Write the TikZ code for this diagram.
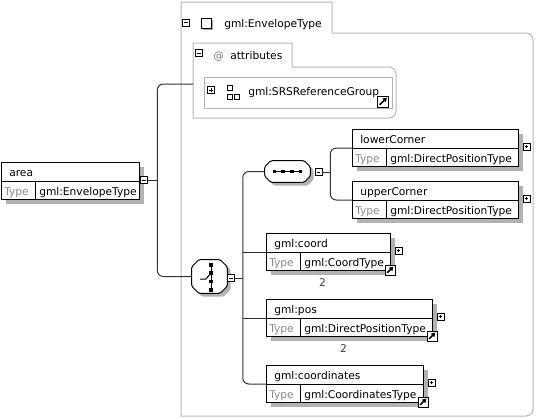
\documentclass[tikz,border=0pt]{standalone}
\usepackage{fontspec}
\setmainfont{DejaVu Sans}
\usetikzlibrary{calc, positioning, shadows, arrows.meta}
\newcommand{\pxu}{0.75pt}

\tikzset{
    txt/.style={font=\fontsize{8}{10}\selectfont, inner sep=0pt, anchor=base west},
    elem/.style={draw=black, fill=white, line width=0.75pt, inner sep=0pt, anchor=north west, minimum height=37*\pxu,
        drop shadow={shadow xshift=3pt, shadow yshift=-3pt, fill=black!30, opacity=1}},
    conn/.style={draw=black!80, line width=0.75pt, rounded corners=4.5pt},
    frame/.style={draw=black!28, line width=0.75pt},
    pmbox/.style={draw=black, fill=white, line width=0.5pt, minimum size=7*\pxu, inner sep=0pt},
    minus/.style={pmbox, path picture={\draw[line width=0.5pt] ([xshift=1.2pt]path picture bounding box.west) -- ([xshift=-1.2pt]path picture bounding box.east);}},
    plus/.style={pmbox, path picture={\draw[line width=0.5pt] ([xshift=1.2pt]path picture bounding box.west) -- ([xshift=-1.2pt]path picture bounding box.east)
        ([yshift=-1.2pt]path picture bounding box.north) -- ([yshift=1.2pt]path picture bounding box.south);}},
    link/.style={draw=black, fill=white, line width=0.6pt, minimum size=10*\pxu, inner sep=0pt,
        path picture={\draw[line width=1.1pt, -{Triangle[length=3pt, width=3.5pt]}] ([shift={(1.6pt,1.6pt)}]path picture bounding box.south west) -- ([shift={(-1.2pt,-1.2pt)}]path picture bounding box.north east);}},
    compositor/.style={rectangle, inner sep=0pt, draw=none},
    compline/.style={draw=black, fill=white, line width=0.75pt, rounded corners=1pt,
        drop shadow={shadow xshift=2.5pt, shadow yshift=-2.5pt, fill=black!30, opacity=1}},
}

% element box: id, x, y, width, name, type
\newcommand{\elembox}[6]{%
    \node[elem, minimum width=#4*\pxu] (#1) at (#2,#3) {};
    \draw[line width=0.75pt] (#1.west) -- (#1.east);
    \draw[line width=0.75pt] ($(#1.west)+(34,0)$) -- ($(#1.south west)+(34,0)$);
    \node[txt] (#1-name) at ($(#1.north west)+(8,14)$) {#5};
    \node[txt, text=black!45] (#1-tag) at ($(#1.north west)+(3,33)$) {Type};
    \node[txt] (#1-type) at ($(#1.north west)+(38,33)$) {#6};
}

% octagon outline round a compositor node: node, cut
\newcommand{\octagon}[2]{%
    \path[compline] ($(#1.north west)+(#2,0)$) -- ($(#1.north east)+(-#2,0)$) -- ($(#1.north east)+(0,#2)$)
        -- ($(#1.south east)+(0,-#2)$) -- ($(#1.south east)+(-#2,0)$) -- ($(#1.south west)+(#2,0)$)
        -- ($(#1.south west)+(0,-#2)$) -- ($(#1.north west)+(0,#2)$) -- cycle;
}

\begin{document}
\begin{tikzpicture}[x=0.75pt, y=-0.75pt]
    \useasboundingbox (0,0) rectangle (536,418);

    % containers
    \draw[frame] (181,416) -- (181,2) -- (332,2) -- (332,33) -- (526,33) arc[start angle=-90, end angle=0, radius=7]
        -- (533,409) arc[start angle=0, end angle=90, radius=7] -- cycle;
    \node[minus] (env-pm) at (186,22.5) {};
    \node[draw=black, fill=white, line width=0.6pt, minimum size=10*\pxu, inner sep=0pt,
        drop shadow={shadow xshift=1.5pt, shadow yshift=-1.5pt, fill=black!35, opacity=1}] (env-ic) at (206,23) {};
    \node[txt] (env-name) at (224,27) {gml:EnvelopeType};

    \draw[frame] (193,118) -- (193,43) -- (292,43) -- (292,67) -- (389,67) arc[start angle=-90, end angle=0, radius=7]
        -- (396,111) arc[start angle=0, end angle=90, radius=7] -- cycle;
    \coordinate (attr) at (193,84);
    \node[minus] (att-pm) at (199,53) {};
    \node[txt, text=black!50] (att-at) at (213,59) {@};
    \node[txt] (att-name) at (230,59) {attributes};

    \node[draw=black!30, fill=white, line width=0.75pt, anchor=north west, minimum width=188*\pxu, minimum height=31*\pxu] (srs) at (204,77) {};
    \node[plus] (srs-pm) at (211,90) {};
    \draw[line width=0.6pt] (227,85) rectangle (232,90) (227,94) rectangle (232,99) (234,94) rectangle (239,99);
    \node[txt] (srs-name) at (248,95.5) {gml:SRSReferenceGroup};
    \node[link, minimum size=11*\pxu] (srs-lk) at (383,101.5) {};

    % root element
    \elembox{area}{1}{162}{138}{area}{gml:EnvelopeType}
    \node[minus] (area-pm) at (144,180) {};

    % compositors
    \node[compositor, minimum width=35*\pxu, minimum height=33*\pxu] (choice) at (209.5,276.5) {};
    \octagon{choice}{7}
    \draw[line width=0.75pt] ($(choice)+(1.5,-11.5)$) -- ($(choice)+(1.5,13.5)$);
    \draw[line width=0.75pt] ($(choice)+(-9.5,2.5)$) -- ($(choice)+(-3.5,2.5)$) -- ($(choice)+(1.5,-3.5)$);
    \foreach \dy in {-11.5,-3.5,5,13.5}
        \fill ($(choice)+(1.5,\dy)$) +(-1.8,-1.8) rectangle +(1.8,1.8);
    \node[minus] (choice-pm) at (231,278) {};

    \node[compositor, minimum width=45*\pxu, minimum height=21*\pxu] (seq) at (287.5,171.5) {};
    \octagon{seq}{6}
    \draw[line width=0.75pt] ($(seq)+(-14,0)$) -- ($(seq)+(14,0)$);
    \foreach \dx in {-13,-4.3,4.3,13}
        \fill ($(seq)+(\dx,0)$) +(-1.8,-1.8) rectangle +(1.8,1.8);
    \node[minus] (seq-pm) at (318.5,172) {};

    % child elements
    \elembox{lc}{352}{129}{166}{lowerCorner}{gml:DirectPositionType}
    \node[plus] (lc-pm) at ($(lc.east)+(7.5,-1.5)$) {};
    \elembox{uc}{352}{181}{166}{upperCorner}{gml:DirectPositionType}
    \node[plus] (uc-pm) at ($(uc.east)+(7.5,-1.5)$) {};

    \elembox{gc}{266}{233}{124}{gml:coord}{gml:CoordType}
    \node[plus] (gc-pm) at ($(gc.east)+(7.5,-1.5)$) {};
    \node[link] (gc-lk) at ($(gc.south east)+(-1,-1)$) {};
    \node[txt, anchor=base, text=black!75] (gc-occ) at ($(gc.south)+(-6,15.5)$) {2};

    \elembox{gp}{266}{299}{166}{gml:pos}{gml:DirectPositionType}
    \node[plus] (gp-pm) at ($(gp.east)+(7.5,-1.5)$) {};
    \node[link] (gp-lk) at ($(gp.south east)+(-1,-1)$) {};
    \node[txt, anchor=base, text=black!75] (gp-occ) at ($(gp.south)+(-6,15.5)$) {2};

    \elembox{gcs}{266}{365}{157}{gml:coordinates}{gml:CoordinatesType}
    \node[plus] (gcs-pm) at ($(gcs.east)+(7.5,-1.5)$) {};
    \node[link] (gcs-lk) at ($(gcs.south east)+(-1,-1)$) {};

    % connectors
    \coordinate (j0) at ($(area-pm.east)+(9.5,0)$);
    \draw[conn] (area-pm.east) -- (j0);
    \draw[conn] (j0) |- (attr);
    \draw[conn] (j0) |- (choice.west);

    \coordinate (j1) at ($(choice-pm.east)+(8,0)$);
    \draw[conn] (choice-pm.east) -- (j1);
    \draw[conn] (j1) |- (seq.west);
    \draw[conn] (j1) |- (gcs.west);
    \draw[conn] (j1 |- gc.west) -- (gc.west);
    \draw[conn] (j1 |- gp.west) -- (gp.west);

    \coordinate (j2) at ($(seq-pm.east)+(8,0)$);
    \draw[conn] (seq-pm.east) -- (j2);
    \draw[conn] (j2) |- (lc.west);
    \draw[conn] (j2) |- (uc.west);
\end{tikzpicture}
\end{document}
